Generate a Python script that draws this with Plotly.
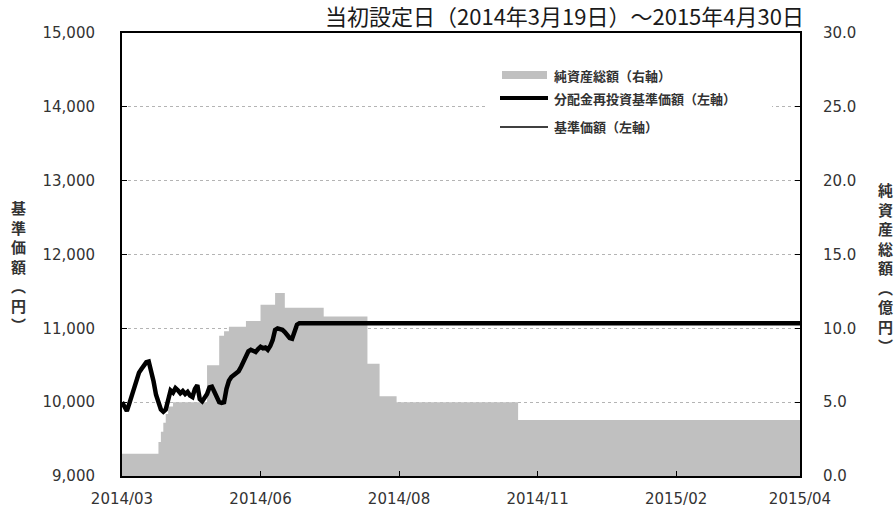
import plotly.graph_objects as go

# ---------------- data ----------------
# x: business-day index from the launch date (2014-03-19)
tick_idx = [0, 57, 114, 171, 228, 279]
tick_labels = ["2014/03", "2014/06", "2014/08", "2014/11", "2015/02", "2015/04"]

# 基準価額 / 分配金再投資基準価額 (円) – identical (no distributions)
nav_days = list(range(0, 74)) + [279]
nav_values = [
    10000, 9920, 9880, 9980, 10080, 10200, 10300, 10400, 10450, 10500,
    10540, 10550, 10430, 10280, 10100, 9980, 9900, 9870, 9900, 10030,
    10160, 10130, 10190, 10160, 10120, 10150, 10110, 10140, 10090, 10070,
    10180, 10230, 10040, 10010, 10060, 10110, 10200, 10210, 10140, 10060,
    10000, 9990, 10000, 10180, 10290, 10340, 10370, 10380, 10420, 10480,
    10560, 10620, 10690, 10710, 10690, 10680, 10720, 10750, 10730, 10740,
    10710, 10760, 10840, 10980, 11000, 10990, 10980, 10950, 10900, 10870,
    10860, 10960, 11050, 11070, 11070,
]
reinvest_values = list(nav_values)

# 純資産総額 (億円), step series
aum_days = [0, 15, 16, 17, 18, 19, 21, 35, 40, 42, 44, 51, 57, 63, 67, 83, 101, 106, 113, 163, 279]
aum_values = [1.5, 2.3, 3.0, 3.6, 4.2, 4.7, 5.0, 7.5, 9.5, 9.8, 10.1, 10.5, 11.6, 12.4, 11.4, 10.8, 7.6, 5.4, 5.0, 3.8, 3.8]

left_ticks = [9000, 10000, 11000, 12000, 13000, 14000, 15000]
right_ticks = [0, 5, 10, 15, 20, 25, 30]

title_text = "当初設定日（2014年3月19日）～2015年4月30日"
legend_names = ["純資産総額（右軸）", "分配金再投資基準価額（左軸）", "基準価額（左軸）"]

# ---------------- figure ----------------
W, H = 896, 513
L, R, T, B = 122, 96, 33, 37
PW, PH = W - L - R, H - T - B


def px(x):
    return (x - L) / PW


def py(y):
    return (H - B - y) / PH


FONT = "DejaVu Sans, Noto Sans CJK JP, sans-serif"
CJK = "Noto Sans CJK JP, sans-serif"
TXT = "#333333"

fig = go.Figure()
fig.add_trace(go.Scatter(
    x=aum_days, y=aum_values, name=legend_names[0], mode="lines",
    line=dict(shape="hv", width=0, color="#c0c0c0"), fill="tozeroy",
    fillcolor="#c0c0c0", yaxis="y", showlegend=False,
))
fig.add_trace(go.Scatter(
    x=nav_days, y=reinvest_values, name=legend_names[1], mode="lines",
    line=dict(color="black", width=4.5), yaxis="y2", showlegend=False,
))
fig.add_trace(go.Scatter(
    x=nav_days, y=nav_values, name=legend_names[2], mode="lines",
    line=dict(color="black", width=1.5), yaxis="y2", showlegend=False,
))

shapes = [
    dict(type="rect", xref="paper", yref="paper", x0=px(486), x1=px(772), y0=py(140), y1=py(60),
         fillcolor="white", line=dict(width=0), layer="above"),
    dict(type="rect", xref="paper", yref="paper", x0=px(502), x1=px(547), y0=py(79), y1=py(71),
         fillcolor="#c0c0c0", line=dict(width=0), layer="above"),
    dict(type="line", xref="paper", yref="paper", x0=px(500), x1=px(548), y0=py(98), y1=py(98),
         line=dict(color="black", width=4), layer="above"),
    dict(type="line", xref="paper", yref="paper", x0=px(500), x1=px(548), y0=py(127), y1=py(127),
         line=dict(color="black", width=1.5), layer="above"),
]

annotations = [
    dict(text=title_text, xref="paper", yref="paper", x=px(806), y=py(15), xanchor="right",
         yanchor="middle", showarrow=False,
         font=dict(family=CJK, size=22, color="#1a1a1a")),
    dict(text="<br>".join(list("基準価額") + ["︵", "円", "︶"]), xref="paper", yref="paper",
         x=px(18), y=py(266), xanchor="center", yanchor="middle", showarrow=False,
         font=dict(family=CJK, size=15, color=TXT, weight="bold")),
    dict(text="<br>".join(list("純資産総額") + ["︵", "億", "円", "︶"]), xref="paper", yref="paper",
         x=px(885), y=py(267), xanchor="center", yanchor="middle", showarrow=False,
         font=dict(family=CJK, size=15, color=TXT, weight="bold")),
]
for name, yy in zip(legend_names, [75, 98, 127]):
    annotations.append(dict(text=name, xref="paper", yref="paper", x=px(552), y=py(yy),
                            xanchor="left", yanchor="middle", showarrow=False,
                            font=dict(family=CJK, size=13, color=TXT, weight="bold")))

fig.update_layout(
    template="none",
    width=W, height=H, margin=dict(l=L, r=R, t=T, b=B, autoexpand=False),
    paper_bgcolor="white", plot_bgcolor="white",
    font=dict(family=FONT, size=15, color=TXT),
    shapes=shapes, annotations=annotations, showlegend=False,
    xaxis=dict(range=[0, 279], tickvals=tick_idx, ticktext=tick_labels, ticks="inside",
               ticklen=5, tickcolor="black", showline=True, linecolor="black", linewidth=2,
               mirror=True, showgrid=False, zeroline=False, ticklabelstandoff=8,
               automargin=False),
    yaxis=dict(range=[0, 30], tickvals=right_ticks, tickformat=".1f", side="right",
               ticks="inside", ticklen=5, tickcolor="black", showline=True, linecolor="black",
               linewidth=2, showgrid=True, gridcolor="#b4b4b4", griddash="dot", gridwidth=1,
               zeroline=False, ticklabelstandoff=18, automargin=False),
    yaxis2=dict(range=[9000, 15000], tickvals=left_ticks, tickformat=",", side="left",
                overlaying="y", ticks="inside", ticklen=5, tickcolor="black", showline=True,
                linecolor="black", linewidth=2, showgrid=False, zeroline=False,
                ticklabelstandoff=22, automargin=False),
)

fig.write_html("out.html", config={"displayModeBar": False},
               post_script="document.body.style.margin='0';document.body.style.overflow='hidden';")
